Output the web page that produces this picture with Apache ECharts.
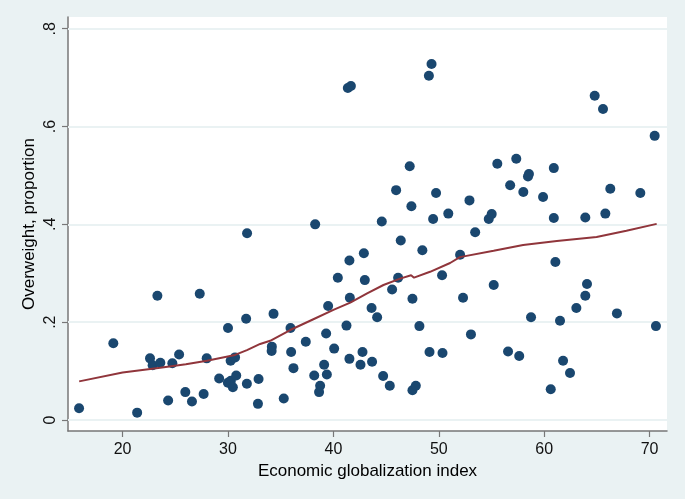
<!DOCTYPE html>
<html>
<head>
<meta charset="utf-8">
<script src="https://cdn.jsdelivr.net/npm/echarts@6/dist/echarts.min.js"></script>
<style>
  html, body { margin: 0; padding: 0; background: #eaf2f3; }
  #chart { width: 685px; height: 499px; }
</style>
</head>
<body>
<div id="chart"></div>
<script>
// observed points: economic globalization index vs overweight proportion
const globalization = [
  15.87, 19.12, 21.38, 22.60, 22.85, 23.30, 23.58, 24.32, 24.72, 25.36,
  25.95, 26.58, 27.32, 27.69, 27.98, 29.16, 30.00, 29.99, 30.27, 30.46,
  30.78, 30.25, 30.67, 31.72, 31.81, 31.79, 32.90, 32.84, 34.32, 34.16,
  34.14, 35.93, 35.99, 36.21, 35.29, 37.38, 38.27, 38.18, 38.74, 38.64,
  39.12, 39.31, 39.38, 39.50, 40.07, 40.42, 41.24, 41.52, 41.56, 41.52,
  41.37, 41.66, 42.57, 42.76, 42.89, 42.98, 43.62, 43.67, 44.15, 44.59,
  44.72, 45.35, 45.57, 45.95, 46.14, 46.39, 47.24, 47.40, 47.50, 47.50,
  47.82, 48.16, 48.44, 49.06, 49.31, 49.12, 49.46, 49.74, 50.31, 50.35,
  50.90, 52.02, 52.30, 52.91, 53.05, 53.45, 54.74, 55.02, 55.21, 55.55,
  56.57, 56.77, 57.35, 57.63, 58.02, 58.46, 58.55, 58.75, 59.89, 60.62,
  60.91, 60.91, 61.06, 61.50, 61.79, 62.45, 63.05, 63.90, 63.90, 64.06,
  64.79, 65.58, 65.80, 66.27, 66.90, 69.12, 70.48, 70.60
]
const overweight = [
  0.024, 0.157, 0.015, 0.126, 0.112, 0.254, 0.117, 0.040, 0.116, 0.134,
  0.057, 0.038, 0.258, 0.053, 0.126, 0.085, 0.188, 0.076, 0.080, 0.067,
  0.091, 0.121, 0.128, 0.207, 0.382, 0.074, 0.084, 0.033, 0.217, 0.150,
  0.141, 0.188, 0.139, 0.106, 0.044, 0.160, 0.400, 0.091, 0.070, 0.057,
  0.113, 0.177, 0.093, 0.233, 0.146, 0.291, 0.193, 0.326, 0.250, 0.125,
  0.679, 0.683, 0.113, 0.139, 0.341, 0.286, 0.229, 0.119, 0.210, 0.406,
  0.090, 0.070, 0.267, 0.470, 0.291, 0.367, 0.519, 0.437, 0.248, 0.061,
  0.070, 0.192, 0.347, 0.704, 0.728, 0.139, 0.411, 0.464, 0.296, 0.137,
  0.422, 0.338, 0.250, 0.449, 0.175, 0.384, 0.411, 0.421, 0.276, 0.524,
  0.140, 0.480, 0.534, 0.131, 0.466, 0.498, 0.503, 0.210, 0.456, 0.063,
  0.515, 0.413, 0.323, 0.203, 0.121, 0.096, 0.229, 0.254, 0.414, 0.278,
  0.663, 0.636, 0.422, 0.473, 0.218, 0.464, 0.581, 0.192
]

// lowess smoother
const lowessX = [15.88, 20, 23.57, 26, 28, 30.67, 31.8, 33.05, 34, 35.9, 38.1, 40, 41.6, 43.2,
  44.75, 46.33, 47.37, 47.65, 49.17, 51.07, 52, 55.2, 58, 61.2, 64.97, 67.8, 70.67]
const lowessY = [0.079, 0.097, 0.107, 0.114, 0.121, 0.133, 0.143, 0.1555, 0.162, 0.184, 0.206, 0.225, 0.240, 0.259,
  0.276, 0.289, 0.296, 0.291, 0.303, 0.321, 0.333, 0.346, 0.358, 0.366, 0.374, 0.387, 0.401]

const xTicks = [20, 30, 40, 50, 60, 70]
const yTicks = [0, 0.2, 0.4, 0.6, 0.8]
const yTickLabels = ['0', '.2', '.4', '.6', '.8']

const chart = echarts.init(document.getElementById('chart'))

chart.setOption({
  backgroundColor: '#eaf2f3',
  animation: false,
  textStyle: { fontFamily: 'Liberation Sans, Arial, sans-serif' },
  grid: {
    left: 68,
    right: 18,
    top: 17,
    bottom: 68,
    show: true,
    backgroundColor: '#ffffff',
    borderWidth: 0
  },
  xAxis: {
    type: 'value',
    min: 14.82,
    max: 71.65,
    name: 'Economic globalization index',
    nameLocation: 'middle',
    nameGap: 27,
    nameTextStyle: { color: '#000', fontSize: 17 },
    axisLine: { show: true, onZero: false, lineStyle: { color: '#777', width: 1.5 } },
    axisTick: { show: true, length: 6, customValues: xTicks, lineStyle: { color: '#777', width: 1.2 } },
    axisLabel: { customValues: xTicks, color: '#111', fontSize: 16, margin: 11 },
    splitLine: { show: false }
  },
  yAxis: {
    type: 'value',
    min: -0.0225,
    max: 0.824,
    name: 'Overweight, proportion',
    nameLocation: 'middle',
    nameGap: 30,
    nameMoveOverlap: false,
    nameTextStyle: { color: '#000', fontSize: 17 },
    axisLine: { show: true, onZero: false, lineStyle: { color: '#777', width: 1.5 } },
    axisTick: { show: true, length: 6, customValues: yTicks, lineStyle: { color: '#777', width: 1.2 } },
    axisLabel: {
      customValues: yTicks,
      rotate: 90,
      color: '#111',
      fontSize: 16,
      margin: 9,
      formatter(v) {
        const i = yTicks.findIndex(t => Math.abs(t - v) < 1e-6)
        return i >= 0 ? yTickLabels[i] : ''
      }
    },
    splitLine: { show: false }
  },
  series: [
    {
      type: 'scatter',
      data: globalization.map((x, i) => [x, overweight[i]]),
      symbolSize: 10,
      itemStyle: { color: '#1a476f', opacity: 1 },
      z: 3,
      markLine: {
        silent: true,
        symbol: 'none',
        z: 1,
        animation: false,
        label: { show: false },
        lineStyle: { color: '#eaf2f3', type: 'solid', width: 2 },
        data: yTicks.map(v => ({ yAxis: v }))
      }
    },
    {
      type: 'line',
      data: lowessX.map((x, i) => [x, lowessY[i]]),
      smooth: false,
      symbol: 'none',
      z: 4,
      lineStyle: { color: '#90353b', width: 2 }
    }
  ]
})
</script>
</body>
</html>
